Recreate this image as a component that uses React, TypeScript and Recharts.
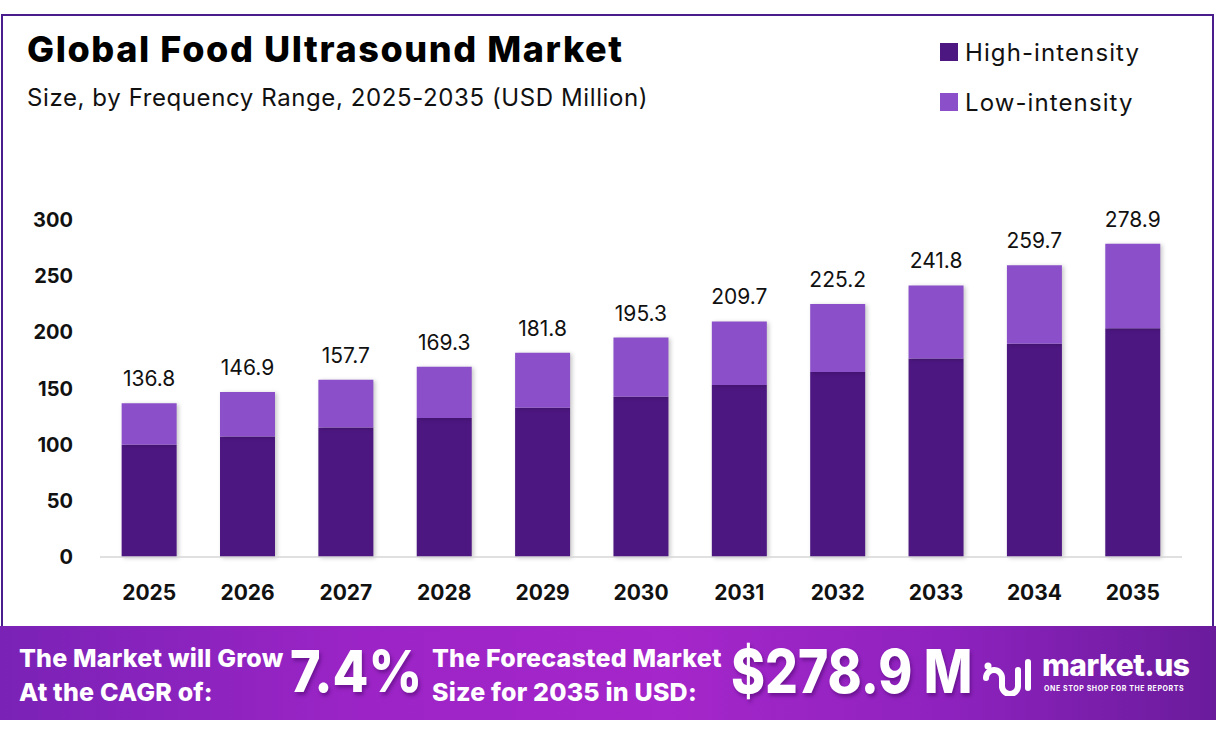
import React from "react";
import {
  Bar,
  BarChart,
  LabelList,
  XAxis,
  YAxis,
} from "recharts";

const YEARS = ["2025", "2026", "2027", "2028", "2029", "2030", "2031", "2032", "2033", "2034", "2035"];
const HIGH_INTENSITY = [99.9, 107.2, 115.2, 123.7, 132.8, 142.7, 153.2, 164.6, 176.6, 189.8, 203.7];
const LOW_INTENSITY = [36.9, 39.7, 42.5, 45.6, 49.0, 52.6, 56.5, 60.6, 65.2, 69.9, 75.2];
const TOTAL_LABELS = ["136.8", "146.9", "157.7", "169.3", "181.8", "195.3", "209.7", "225.2", "241.8", "259.7", "278.9"];
const Y_TICKS = [0, 50, 100, 150, 200, 250, 300];

const SERIES = [
  { key: "high", name: "High-intensity", color: "#4d1782" },
  { key: "low", name: "Low-intensity", color: "#8b50c9" },
];

const FONT = "Inter, 'Noto Sans', sans-serif";

const rows = YEARS.map((year, i) => ({
  year,
  high: HIGH_INTENSITY[i],
  low: LOW_INTENSITY[i],
  total: TOTAL_LABELS[i],
}));

function LegendBox() {
  return (
    <div style={{ position: "absolute", left: 940, top: 40 }}>
      {SERIES.map((s, i) => (
        <div
          key={s.key}
          style={{
            display: "flex",
            alignItems: "center",
            height: 24,
            marginBottom: i === 0 ? 26 : 0,
          }}
        >
          <span
            style={{
              width: 18,
              height: 18,
              background: s.color,
              display: "inline-block",
              marginRight: 7,
            }}
          />
          <span style={{ fontSize: 24, color: "#111", letterSpacing: 1.1 }}>{s.name}</span>
        </div>
      ))}
    </div>
  );
}

export default function App() {
  return (
    <div
      style={{
        position: "absolute",
        left: 0,
        top: 0,
        width: 1216,
        height: 740,
        background: "#fff",
        overflow: "hidden",
        fontFamily: FONT,
      }}
    >
      <style>{`.recharts-bar-rectangle path { filter: drop-shadow(2px 1px 2px rgba(0,0,0,0.22)); }`}</style>
      <div
        style={{
          position: "absolute",
          left: 1,
          top: 14,
          width: 1213,
          height: 620,
          border: "2.5px solid #4a1d8c",
          boxSizing: "border-box",
        }}
      />
      <div
        style={{
          position: "absolute",
          left: 27,
          top: 27,
          fontSize: 36,
          fontWeight: 800,
          color: "#000",
          letterSpacing: 1.6,
          whiteSpace: "nowrap",
        }}
      >
        Global Food Ultrasound Market
      </div>
      <div
        style={{
          position: "absolute",
          left: 27,
          top: 83,
          fontSize: 24,
          color: "#111",
          letterSpacing: 0.6,
          whiteSpace: "nowrap",
        }}
      >
        Size, by Frequency Range, 2025-2035 (USD Million)
      </div>

      <LegendBox />

      <div style={{ position: "absolute", left: 0, top: 0 }}>
        <BarChart
          width={1216}
          height={620}
          data={rows}
          margin={{ top: 220, right: 34, left: 0, bottom: 0 }}
          barCategoryGap="22%"
        >
          <XAxis
            dataKey="year"
            height={63}
            axisLine={{ stroke: "#d6d6d6", strokeWidth: 1.5 }}
            tickLine={false}
            tickMargin={22}
            tick={{ fontSize: 21, fontWeight: 700, fill: "#111", fontFamily: FONT }}
          />
          <YAxis
            width={100}
            domain={[0, 300]}
            ticks={Y_TICKS}
            axisLine={false}
            tickLine={false}
            tickMargin={21}
            tick={{ fontSize: 20, fontWeight: 700, fill: "#111", fontFamily: FONT }}
          />
          {SERIES.map((s) => (
            <Bar
              key={s.key}
              dataKey={s.key}
              name={s.name}
              stackId="size"
              fill={s.color}
              isAnimationActive={false}
            >
              {s.key === "low" && (
                <LabelList
                  dataKey="total"
                  position="top"
                  offset={17}
                  style={{ fontSize: 21, fill: "#111", fontFamily: FONT }}
                />
              )}
            </Bar>
          ))}
        </BarChart>
      </div>

      <div
        style={{
          position: "absolute",
          left: 0,
          top: 626,
          width: 1216,
          height: 94,
          background:
            "linear-gradient(90deg, #7a22b6 0%, #9c24c6 30%, #a526ca 55%, #8e22be 78%, #6a1b9c 100%)",
          color: "#fff",
          fontWeight: 800,
          whiteSpace: "nowrap",
        }}
      >
        <div
          style={{
            position: "absolute",
            left: 19,
            top: 15,
            fontSize: 25,
            lineHeight: "34px",
            letterSpacing: 0.2,
          }}
        >
          The Market will Grow
          <br />
          At the CAGR of:
        </div>
        <div
          style={{
            position: "absolute",
            left: 290,
            top: 10,
            fontSize: 58,
            lineHeight: "70px",
            transform: "scaleX(0.9)",
            transformOrigin: "left center",
            textShadow: "2px 3px 4px rgba(60,0,90,0.45)",
          }}
        >
          7.4%
        </div>
        <div
          style={{
            position: "absolute",
            left: 432,
            top: 15,
            fontSize: 25,
            lineHeight: "34px",
            letterSpacing: 0.2,
          }}
        >
          The Forecasted Market
          <br />
          Size for 2035 in USD:
        </div>
        <div
          style={{
            position: "absolute",
            left: 731,
            top: 10,
            fontSize: 60,
            lineHeight: "70px",
            transform: "scaleX(0.86)",
            transformOrigin: "left center",
            textShadow: "2px 3px 4px rgba(60,0,90,0.45)",
          }}
        >
          $278.9 M
        </div>
        <svg
          style={{ position: "absolute", left: 980, top: 30 }}
          width={56}
          height={40}
          viewBox="0 0 56 40"
        >
          <g fill="none" stroke="#fff" strokeWidth={6} strokeLinecap="round">
            <path d="M6 22 a8 8 0 0 1 16 0 v8" />
            <path d="M22 30 a8 8 0 0 0 16 0 V14" />
            <path d="M48 6 V32" />
          </g>
          <circle cx={8} cy={10} r={3.5} fill="#fff" />
        </svg>
        <div
          style={{
            position: "absolute",
            left: 1042,
            top: 22,
            fontSize: 30,
            lineHeight: "34px",
            letterSpacing: -0.5,
          }}
        >
          market.us
        </div>
        <div
          style={{
            position: "absolute",
            left: 1044,
            top: 58,
            fontSize: 7,
            fontWeight: 700,
            letterSpacing: 0.6,
          }}
        >
          ONE STOP SHOP FOR THE REPORTS
        </div>
      </div>
    </div>
  );
}
